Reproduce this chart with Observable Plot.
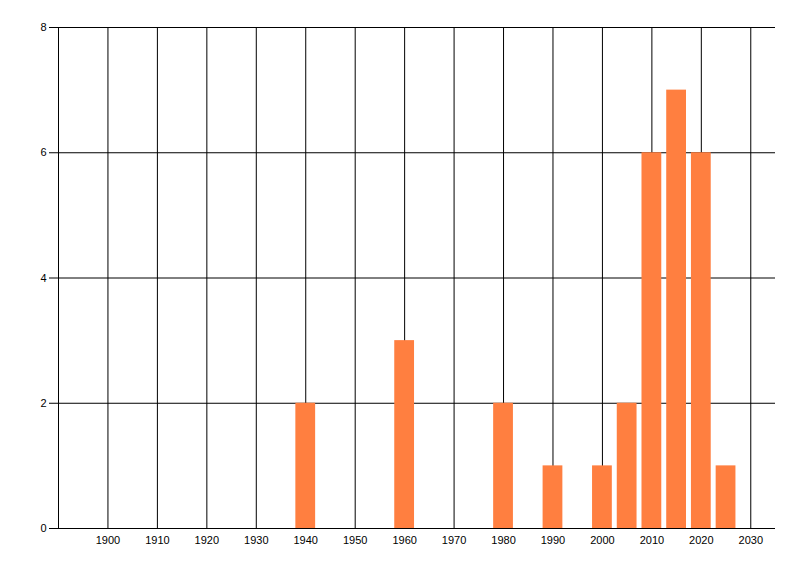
<!DOCTYPE html>
<html>
<head>
<meta charset="utf-8">
<script src="https://cdn.jsdelivr.net/npm/d3@7"></script>
<script src="https://cdn.jsdelivr.net/npm/@observablehq/plot@0.6"></script>
<style>
  body { margin: 0; background: #fff; }
</style>
</head>
<body>
<div id="chart"></div>
<script>
// bar centres (years) and counts
const years  = [1940, 1960, 1980, 1990, 2000, 2005, 2010, 2015, 2020, 2025];
const counts = [2, 3, 2, 1, 1, 2, 6, 7, 6, 1];
const xTicks = [1900, 1910, 1920, 1930, 1940, 1950, 1960, 1970, 1980, 1990, 2000, 2010, 2020, 2030];
const yTicks = [0, 2, 4, 6, 8];

const data = years.map((y, i) => ({year: y, count: counts[i]}));

let chart = Plot.plot({
  width: 800,
  height: 576,
  marginTop: 27,
  marginLeft: 58,
  marginRight: 25,
  marginBottom: 48,
  x: {domain: [1890, 2035]},
  y: {domain: [0, 8]},
  style: {
    fontFamily: "Liberation Sans, sans-serif",
    fontSize: "11px",
    color: "#000",
    background: "#fff"
  },
  marks: [
    Plot.ruleX(xTicks, {y1: 0, y2: 8, stroke: "#000", strokeWidth: 1}),
    Plot.ruleY(yTicks.filter(d => d > 0), {stroke: "#000", strokeWidth: 1}),
    Plot.rectY(data, {
      x1: d => d.year - 2,
      x2: d => d.year + 2,
      y: "count",
      fill: "#ff7f40",
      inset: 0
    }),
    Plot.ruleX([1890], {y1: 0, y2: 8, stroke: "#000"}),
    Plot.ruleY([0], {stroke: "#000"}),
    Plot.axisY({ticks: yTicks, tickSize: 9, tickPadding: 3, label: null, tickFormat: d => String(d)}),
    Plot.axisX({ticks: xTicks, tickSize: 0, tickPadding: 8, label: null, tickFormat: d => String(d)})
  ]
})

d3.select("#chart").append(() => chart)
</script>
</body>
</html>
